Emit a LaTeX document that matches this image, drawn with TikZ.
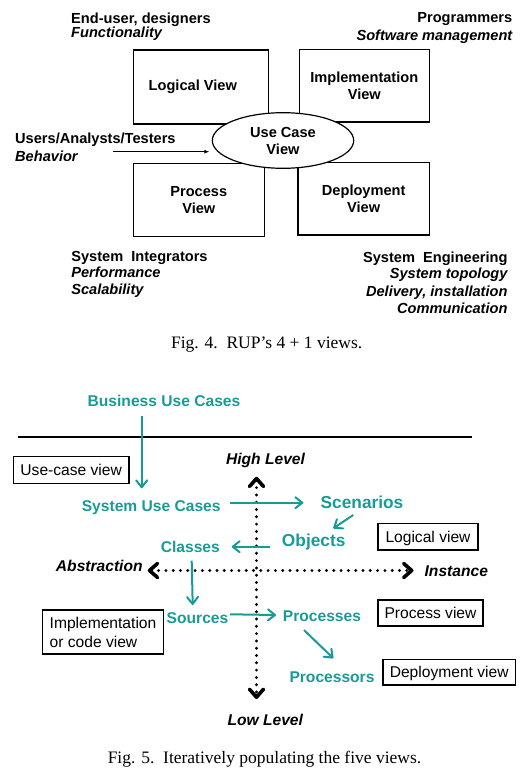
\documentclass[tikz,border=0pt]{standalone}
\usepackage{fontspec}
\setmainfont{Liberation Sans}
\newfontfamily\romain{Liberation Serif}
\usepackage{tikz}
\usetikzlibrary{arrows.meta,shapes.geometric}
\definecolor{turquoise}{RGB}{24,155,150}
\def\largeur{532}
\def\hauteur{774}

\begin{document}
\begin{tikzpicture}[x=1pt, y=-1pt,
    haut/.style={inner sep=0pt, font=\fontsize{14.6}{17.5}\selectfont\bfseries},
    vue/.style={draw, line width=1.2pt, inner sep=0pt, align=center, font=\fontsize{14.6}{17}\selectfont\bfseries},
    bleu/.style={inner sep=0pt, text=turquoise, text height=11.2pt, text depth=0pt, font=\fontsize{15.6}{18.8}\selectfont\bfseries},
    grand/.style={bleu, text height=12.4pt, font=\fontsize{17.3}{21}\selectfont\bfseries},
    niveau/.style={inner sep=0pt, text height=11.2pt, text depth=0pt, font=\fontsize{15.6}{18.8}\selectfont\bfseries\itshape},
    cadre/.style={draw, line width=1.4pt, inner sep=0pt, font=\fontsize{15.6}{19}\selectfont},
    ligne/.style={cadre, text height=11.2pt, text depth=0pt},
    fleche/.style={draw=turquoise, line width=2pt, -{Straight Barb[length=7pt, width=11pt, round]}},
    axe/.style={line width=3.2pt, line cap=round, dash pattern=on 0pt off 7.3pt,
        {Straight Barb[length=8pt, width=14pt, line width=3.6pt, round]}-{Straight Barb[length=8pt, width=14pt, line width=3.6pt, round]}},
    legende/.style={inner sep=0pt, text height=11.6pt, text depth=0pt, font=\fontsize{17.5}{21}\selectfont\romain}]
\useasboundingbox (0,0) rectangle (\largeur,\hauteur);
%\draw[step=10pt, black!20] (0,0) grid (\largeur,\hauteur);

% Fig. 4
    \node[vue, minimum width=135, minimum height=74] (lv) at (200.8,87) {Logical View\kern16pt};
    \node[vue, minimum width=130, minimum height=72.7] (iv) at (364.3,85.7) {Implementation\\View};
    \node[vue, minimum width=131, minimum height=73] (pv) at (198.8,199.8) {Process\\View};
    \node[vue, minimum width=131.5, minimum height=72.7] (dv) at (363.7,198.7) {Deployment\\View};
    \node[vue, ellipse, fill=white, minimum width=141.4, minimum height=55.6] (ucv) at (283,140.5) {Use Case\\View};

    \node[haut, anchor=north west, align=left] (eu) at (71,12.5) {End-user, designers\\[-2.9pt]\itshape Functionality};
    \node[haut, anchor=north east, align=right] (prog) at (512.5,12.5) {Programmers\\[0.5pt]\itshape Software management};
    \node[haut, anchor=north west, align=left] (uat) at (15,132.5) {Users/Analysts/Testers\\[0.5pt]\itshape Behavior};
    \node[haut, anchor=north west, align=left] (si) at (71.1,251.5) {System\ \ Integrators\\[-1.9pt]\itshape Performance\\[-0.8pt]\itshape Scalability};
    \node[haut, anchor=north east, align=right] (se) at (507.7,251.5) {System\ \ Engineering\\[-0.9pt]\itshape System topology\\[-0.1pt]\itshape Delivery, installation\\[-0.5pt]\itshape Communication};

    \coordinate (depart) at (112.7,151.7);
    \draw[line width=1pt, -{Latex[length=5pt, width=4pt]}, shorten >=2.3pt] (depart) -- (depart -| ucv.west);

    \node[legende] (fig4) at (266.7,342.7) {Fig. 4.\ \ RUP’s 4 + 1 views.};

% Fig. 5
    \coordinate (tg) at (18.3,436.8);
    \coordinate (td) at (471.5,436.8);
    \draw[line width=2.6pt] (tg) -- (td);

    \coordinate (ah) at (256.5,476.7);
    \coordinate (ab) at (256.5,699);
    \coordinate (ag) at (147.7,570.5);
    \coordinate (ad) at (413.5,570.5);
    \draw[axe] (ah) -- (ab);
    \draw[axe] (ag) -- (ad);

    \node[niveau] (hl) at (265.5,458.8) {High Level};
    \node[niveau] (ll) at (265.3,720) {Low Level};
    \node[niveau] (abs) at (99.3,565.5) {Abstraction};
    \node[niveau] (ins) at (456.3,570.7) {Instance};

    \node[bleu] (buc) at (164,401) {Business Use Cases};
    \node[bleu] (suc) at (151.2,506) {System Use Cases};
    \node[grand] (scen) at (362,502) {Scenarios};
    \node[grand] (obj) at (313.7,540) {Objects};
    \node[bleu] (cls) at (190.3,547.3) {Classes};
    \node[bleu] (src) at (197.5,617.5) {Sources};
    \node[bleu] (proc) at (322,616) {Processes};
    \node[bleu] (cpu) at (332,677.3) {Processors};

    \node[ligne, minimum width=115.7, minimum height=26.6] (vcu) at (71.2,470) {Use-case view};
    \node[ligne, minimum width=100, minimum height=26.7] (vlog) at (428,536.7) {Logical view};
    \node[ligne, minimum width=105, minimum height=26] (vproc) at (430.5,613) {Process view};
    \node[ligne, minimum width=132.3, minimum height=25.7] (vdep) at (449.2,672.2) {Deployment view};
    \node[cadre, align=left, minimum width=120.6, minimum height=44] (vimp) at (103,632) {Implementation\\or code view};

    \draw[fleche] ([xshift=-22.3pt, yshift=-15pt]buc.center) -- ([xshift=-9.5pt, yshift=17.7pt]suc.center);
    \draw[fleche] ([xshift=78.8pt, yshift=3.3pt]suc.center) -- ([xshift=-58.7pt, yshift=-0.7pt]scen.center);
    \draw[fleche] ([xshift=-8.7pt, yshift=-13pt]scen.center) -- ([xshift=19.6pt, yshift=11.7pt]obj.center);
    \draw[fleche] ([xshift=-43.7pt, yshift=-6.7pt]obj.center) -- ([xshift=41.4pt, yshift=0.6pt]cls.center);
    \draw[fleche] ([xshift=1.4pt, yshift=-13.4pt]cls.center) -- ([xshift=-4.8pt, yshift=12.5pt]src.center);
    \draw[fleche] ([xshift=32.5pt, yshift=3.2pt]src.center) -- ([xshift=-46pt, yshift=1pt]proc.center);
    \draw[fleche] ([xshift=-18pt, yshift=-14pt]proc.center) -- ([xshift=1.3pt, yshift=19pt]cpu.center);

    \node[legende] (fig5) at (264.5,757.7) {Fig. 5.\ \ Iteratively populating the five views.};
\end{tikzpicture}
\end{document}
